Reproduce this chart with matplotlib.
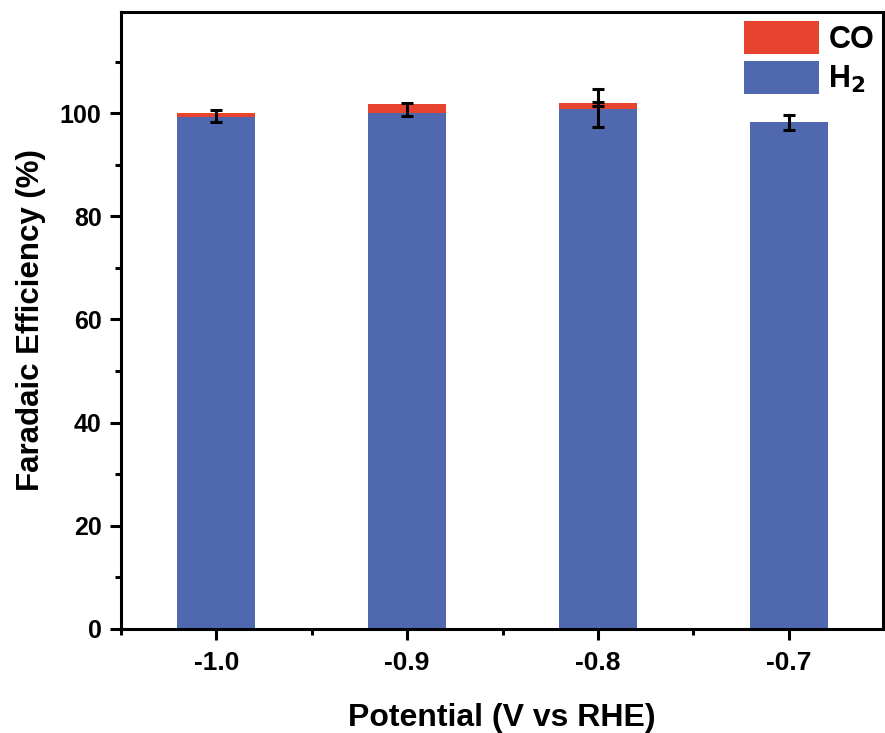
import matplotlib
matplotlib.use("Agg")
import matplotlib.pyplot as plt
from matplotlib.ticker import MultipleLocator

# ---------------------------------------------------------------------------
# Data
# ---------------------------------------------------------------------------
potentials = [-1.0, -0.9, -0.8, -0.7]
tick_labels = ["-1.0", "-0.9", "-0.8", "-0.7"]
fe_h2 = [99.3, 100.1, 100.8, 98.2]
fe_co = [0.8, 1.6, 1.2, 0.0]
err_center = [99.4, 100.65, 101.0, 98.2]
err_size = [1.2, 1.25, 3.7, 1.45]
co_err_center = [101.7]
co_err_size = [0.4]
co_err_x = [-0.8]

BLUE = "#5068B0"
RED = "#E8432F"

plt.rcParams["font.family"] = ["Liberation Sans", "DejaVu Sans"]
plt.rcParams["font.weight"] = "bold"
plt.rcParams["mathtext.default"] = "bf"

fig = plt.figure(figsize=(8.85, 7.33), dpi=100)
ax = fig.add_axes([0.1367, 0.1419, 0.8613, 0.8417])

ax.bar(potentials, fe_h2, width=0.041, color=BLUE, label="H$_2$", zorder=2)
ax.bar(potentials, fe_co, width=0.041, bottom=fe_h2, color=RED, label="CO", zorder=2)

ax.errorbar(potentials, err_center, yerr=err_size, fmt="none", ecolor="black",
            elinewidth=2.2, capsize=4.5, capthick=2.2, zorder=3)
ax.errorbar(co_err_x, co_err_center, yerr=co_err_size, fmt="none", ecolor="black",
            elinewidth=2.2, capsize=4.5, capthick=2.2, zorder=3)

ax.set_xlim(-1.05, -0.6505)
ax.set_ylim(0, 119.6)
ax.set_xticks(potentials)
ax.set_xticklabels(tick_labels)
ax.xaxis.set_minor_locator(MultipleLocator(0.05))
ax.set_yticks([0, 20, 40, 60, 80, 100])
ax.yaxis.set_minor_locator(MultipleLocator(10))

for s in ax.spines.values():
    s.set_linewidth(2.2)
ax.tick_params(which="major", direction="out", length=8, width=2.2,
               labelsize=18, pad=6)
ax.tick_params(axis="x", which="major", labelsize=19, pad=8)
ax.tick_params(which="minor", direction="out", length=4.5, width=2.2)
ax.tick_params(top=False, right=False, which="both")

ax.set_xlabel("Potential (V vs RHE)", fontsize=23, fontweight="bold", labelpad=20)
ax.set_ylabel("Faradaic Efficiency (%)", fontsize=22.5, fontweight="bold", labelpad=10)

handles, labels = ax.get_legend_handles_labels()
ax.legend(handles[::-1], labels[::-1], loc="upper right", frameon=False,
          fontsize=22, handlelength=2.45, handleheight=1.3, handletextpad=0.3,
          labelspacing=0.2, borderaxespad=0.15, borderpad=0.15)

fig.savefig("out.png", dpi=100)
plt.close(fig)
